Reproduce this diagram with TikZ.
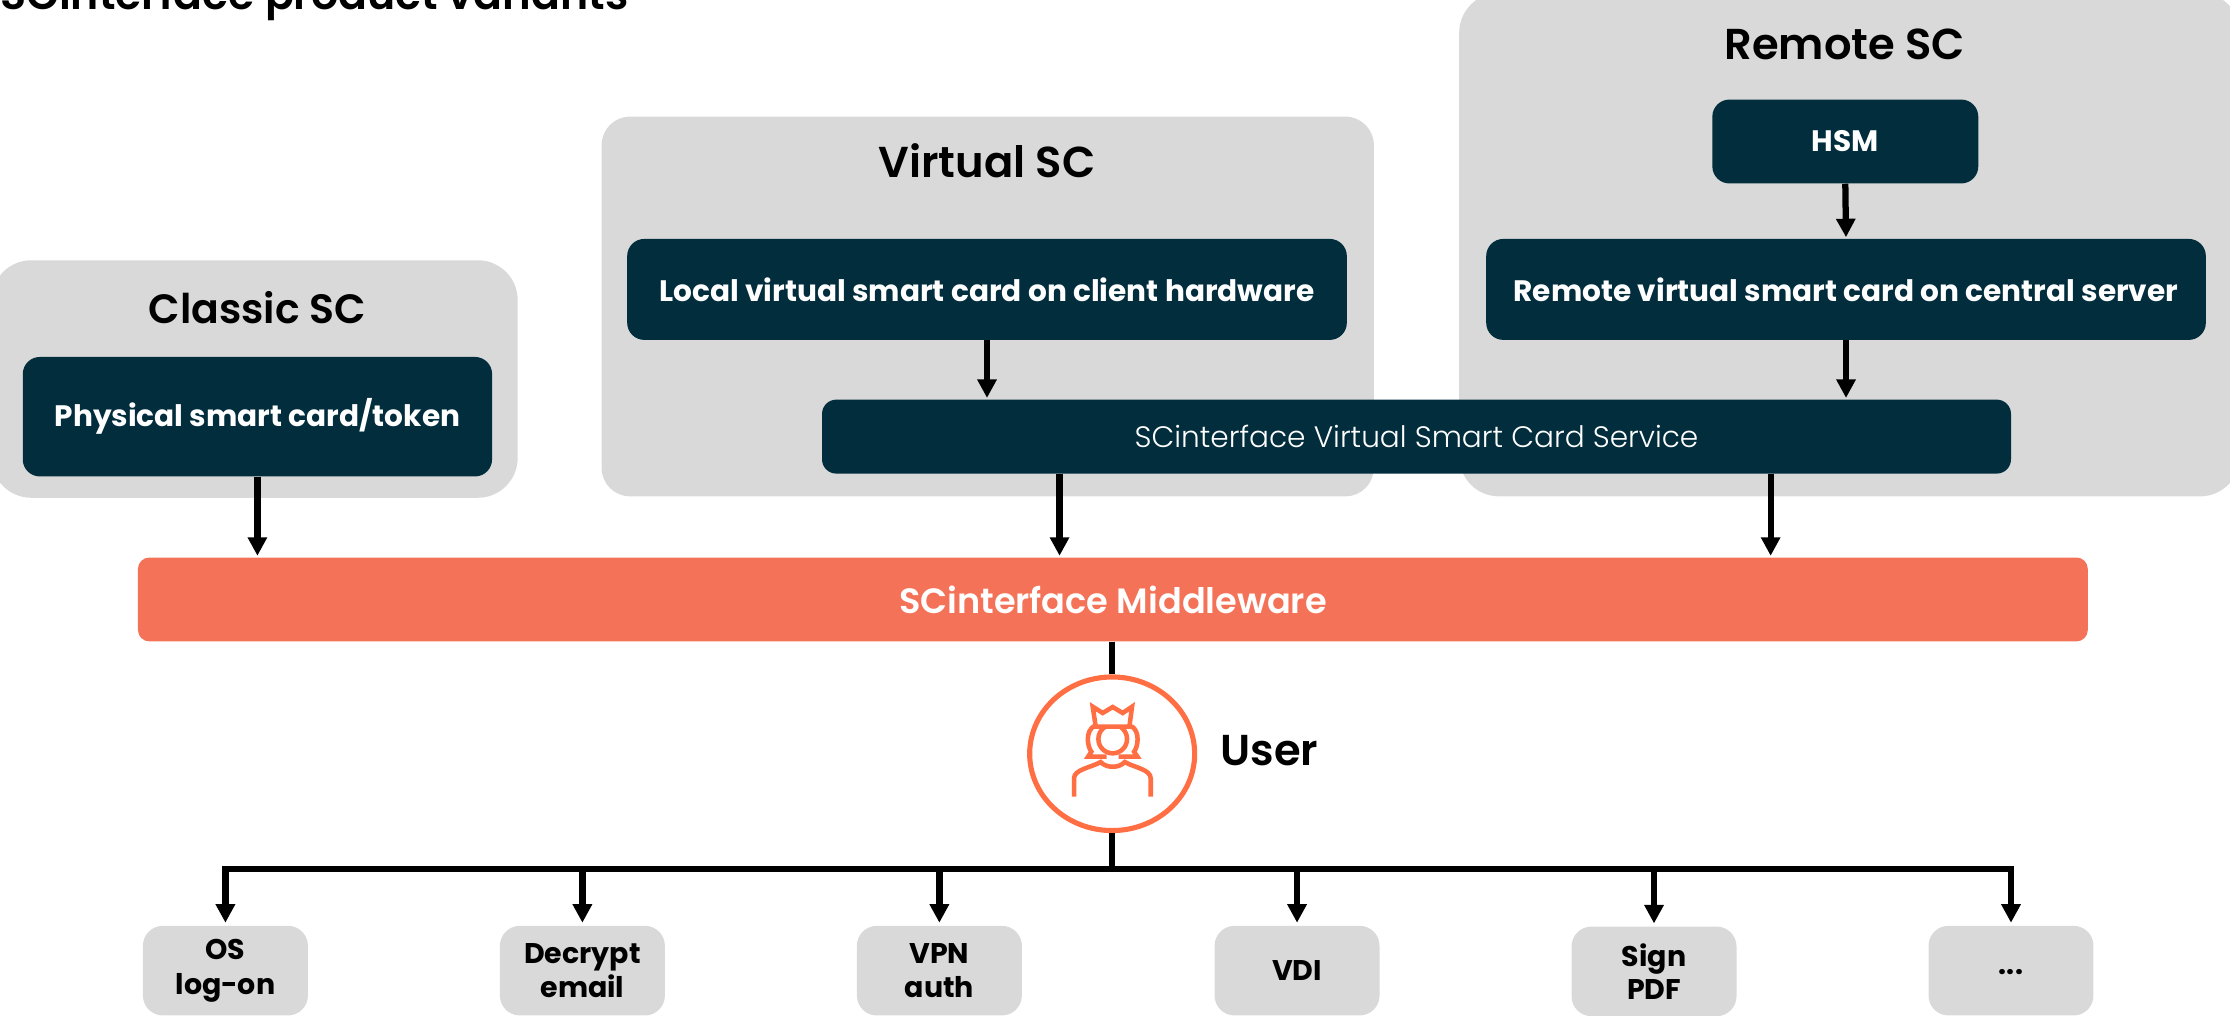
\documentclass[tikz,border=0pt]{standalone}
\usepackage{fontspec}
\setmainfont{Poppins}
\newfontfamily\medfont{Poppins Medium}
\newfontfamily\semifont{Poppins SemiBold}
\newfontfamily\lightfont{Poppins Light}
\usetikzlibrary{arrows.meta,shapes.geometric}
\definecolor{navy}{HTML}{012D3D}
\definecolor{panel}{HTML}{D9D9D9}
\definecolor{coral}{HTML}{F47358}
\definecolor{icon}{HTML}{FF6F43}
\newcommand{\lowtext}[2][1.5pt]{\raisebox{-#1}{#2}}
\tikzset{
  x=1pt,y=-1pt,
  panelbox/.style={fill=panel,rounded corners=#1,inner sep=0pt,anchor=center},
  navybox/.style={fill=navy,rounded corners=#1,inner sep=0pt,anchor=center,text=white,font=\fontsize{20.8}{24}\selectfont\bfseries},
  heading/.style={font=\fontsize{30.4}{34}\selectfont\semifont,text=black,inner sep=0pt},
  outbox/.style={fill=panel,rounded corners=14pt,inner sep=0pt,align=center,minimum width=116pt,minimum height=63pt,font=\fontsize{20}{23.5}\selectfont\bfseries},
  flow/.style={line width=4.4pt,-{Triangle[length=13pt,width=13pt]},shorten >=1pt},
  plainline/.style={line width=4.4pt},
  iconline/.style={draw=icon,line width=3.2pt,line join=miter}
}
\begin{document}
\begin{tikzpicture}
\useasboundingbox (0,0) rectangle (1568,713.7);
\begin{scope}
\clip (0,0) rectangle (1568,713.7);
\node[anchor=base west,inner sep=0pt,font=\fontsize{30}{34}\selectfont\semifont] (title) at (0,6.5) {SCinterface product variants};
% panels
\node[panelbox=28pt,minimum width=370pt,minimum height=167pt] (classic) at (179,266.5) {};
\node[panelbox=20pt,minimum width=543pt,minimum height=267pt] (virtual) at (694.5,215.5) {};
\node[panelbox=28pt,minimum width=549pt,minimum height=354pt] (remote) at (1300.5,172) {};
\node[heading,font=\fontsize{28.8}{34}\selectfont\semifont] (classict) at (181,216) {Classic SC};
\node[heading] (virtualt) at (694,113) {Virtual SC};
\node[heading] (remotet) at (1297,31) {Remote SC};
\node[navybox=12pt,minimum width=330pt,minimum height=84pt] (phys) at (181,293) {\lowtext[1pt]{Physical smart card/token}};
\node[navybox=12pt,minimum width=506pt,minimum height=71pt] (local) at (694,203.5) {Local virtual smart card on client hardware};
\node[navybox=12pt,minimum width=187pt,minimum height=59pt] (hsm) at (1297.5,99.5) {\lowtext[1pt]{HSM}};
\node[navybox=12pt,minimum width=506pt,minimum height=71pt] (rem) at (1298,203.5) {Remote virtual smart card on central server};
\node[navybox=10pt,minimum width=836pt,minimum height=52pt,font=\fontsize{20.8}{24}\selectfont\lightfont] (svc) at (996,307) {SCinterface Virtual Smart Card Service};
\node[fill=coral,rounded corners=8pt,inner sep=0pt,minimum width=1371pt,minimum height=59pt,text=white,font=\fontsize{24.7}{28}\selectfont\semifont] (mw) at (782.5,421.5) {SCinterface Middleware};
% user
\node[draw=icon,line width=3.6pt,fill=white,ellipse,inner sep=0pt,minimum width=116pt,minimum height=108pt] (user) at (782,530) {};
\node[heading,anchor=west] (usert) at (858,528) {\lowtext[1pt]{User}};
\begin{scope}[shift={(668,450)},x=0.2344pt,y=-0.2344pt]
  \draw[iconline] (437,260) -- (428,200) -- (458,219) -- (488,201) -- (518,219) -- (546,200) -- (538,260) -- cycle;
  \begin{scope}
    \clip (400,260) rectangle (580,360);
    \draw[iconline] (488,297) circle[radius=43];
  \end{scope}
  \draw[iconline] (432,258) .. controls (405,275) and (412,320) .. (424,335) -- (414,350) -- (470,350);
  \draw[iconline] (544,258) .. controls (571,275) and (564,320) .. (552,335) -- (562,350) -- (506,350);
  \draw[iconline] (372,470) -- (372,415) .. controls (372,388) and (425,382) .. (452,366) .. controls (468,385) and (508,385) .. (524,366) .. controls (551,382) and (602,388) .. (602,415) -- (602,470);
\end{scope}
% outputs
\node[outbox] (os) at (158.5,682.5) {\lowtext{OS}\\\lowtext[2.5pt]{log-on}};
\node[outbox] (decrypt) at (409.5,682.5) {\lowtext{Decrypt}\\\lowtext[1.5pt]{email}};
\node[outbox] (vpn) at (660.5,682.5) {\lowtext{VPN}\\\lowtext[1.5pt]{auth}};
\node[outbox] (vdi) at (912,682.5) {\lowtext[1pt]{VDI}};
\node[outbox] (sign) at (1163,683) {Sign\\PDF};
\node[outbox] (more) at (1414,682.5) {\lowtext[5pt]{...}};
% connectors
\coordinate (svcl) at (745,333);
\coordinate (svcr) at (1245,333);
\coordinate (bus) at (782,611);
\draw[flow] (phys.south) -- (phys.south |- mw.north);
\draw[flow] (local.south) -- (local.south |- svc.north);
\draw[flow] (hsm.south) -- (rem.north);
\draw[flow] (rem.south) -- (rem.south |- svc.north);
\draw[flow] (svcl) -- (svcl |- mw.north);
\draw[flow] (svcr) -- (svcr |- mw.north);
\draw[plainline] (mw.south -| user.north) -- (user.north);
\draw[plainline] (user.south) -- (bus);
\draw[plainline,line cap=rect] (os |- bus) -- (more |- bus);
\foreach \t in {os,decrypt,vpn,vdi,sign,more}
  \draw[flow,shorten >=2pt] (\t |- bus) -- (\t.north);
\end{scope}
\end{tikzpicture}
\end{document}
